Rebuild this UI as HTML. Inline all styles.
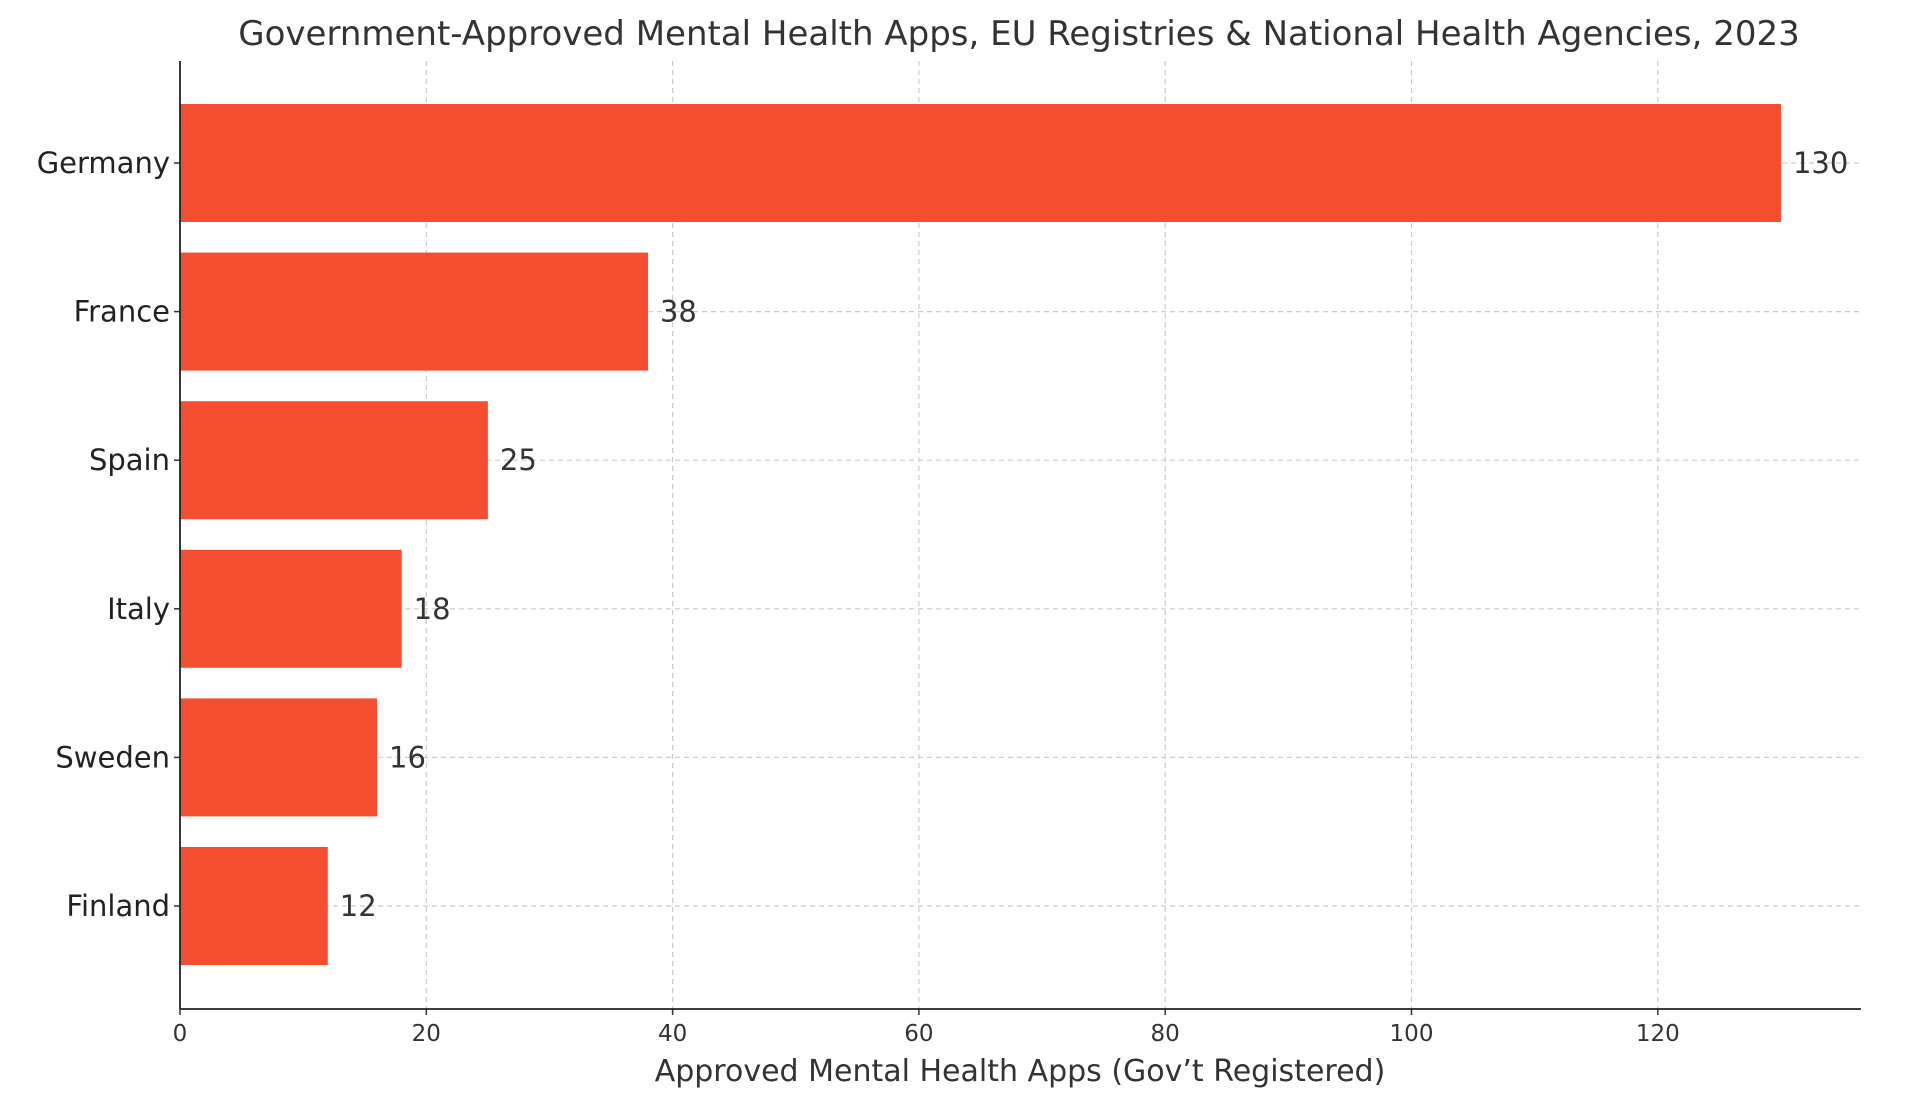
<!DOCTYPE html>
<html><head><meta charset="utf-8"><style>
html,body{margin:0;padding:0;background:#fff;}
svg{display:block;font-family:"DejaVu Sans","Liberation Sans",sans-serif;}
</style></head><body>
<svg id="chart" width="1920" height="1106" viewBox="0 0 1920 1106">
<text x="1019" y="45" text-anchor="middle" font-size="34" fill="#333">Government-Approved Mental Health Apps, EU Registries &amp; National Health Agencies, 2023</text>
<g id="grid"></g><g id="bars"></g><g id="axes"></g>
<text x="1020" y="1081" text-anchor="middle" font-size="30" fill="#333">Approved Mental Health Apps (Gov’t Registered)</text>
</svg>
<script>
const categories=["Germany","France","Spain","Italy","Sweden","Finland"];
const values=[130,38,25,18,16,12];
const xTicks=[0,20,40,60,80,100,120];
const L=180,R=1861,T=61,B=1009,xMax=136.5;
const NS="http://www.w3.org/2000/svg";
function x(v){return L+(R-L)*v/xMax;}
function y(i){return 163+i*(906-163)/(categories.length-1);}
const bh=118;
function mk(t,a,p){const e=document.createElementNS(NS,t);for(const k in a)e.setAttribute(k,a[k]);p.appendChild(e);return e;}
const grid=document.getElementById('grid'),bars=document.getElementById('bars'),axes=document.getElementById('axes');
xTicks.forEach(v=>{
 const g=mk('line',{x1:x(v),x2:x(v),y1:T,y2:B,stroke:'#ccc','stroke-dasharray':'5,4','stroke-width':1.2},grid);
 
 
 const tk=mk('line',{x1:x(v),x2:x(v),y1:B,y2:B+6,stroke:'#333','stroke-width':1.5},axes);
 
 
 const t=mk('text',{x:x(v),y:B+32,'text-anchor':'middle','font-size':23,fill:'#333'},axes);
 t.textContent=v;
 
 
});
categories.forEach((c,i)=>{
 const g=mk('line',{x1:L,x2:R,y1:y(i),y2:y(i),stroke:'#ccc','stroke-dasharray':'5,4','stroke-width':1.2},grid);
 
 
 const b=mk('rect',{x:x(0),y:y(i)-bh/2,width:x(values[i])-x(0),height:bh,fill:'#F44E30'},bars);
 
 
 const v=mk('text',{x:x(values[i])+12,y:y(i)+10,'font-size':29,fill:'#333'},bars);
 v.textContent=values[i];
 
 
 const tk=mk('line',{x1:L-6,x2:L,y1:y(i),y2:y(i),stroke:'#333','stroke-width':1.5},axes);
 
 
 const t=mk('text',{x:L-10,y:y(i)+10,'text-anchor':'end','font-size':29,fill:'#222'},axes);
 t.textContent=c;
 
 
});
const ls=mk('line',{x1:L,x2:L,y1:T,y2:B,stroke:'#222','stroke-width':1.8},axes);


const bs=mk('line',{x1:L,x2:R,y1:B,y2:B,stroke:'#222','stroke-width':1.8},axes);


</script>
</body></html>
